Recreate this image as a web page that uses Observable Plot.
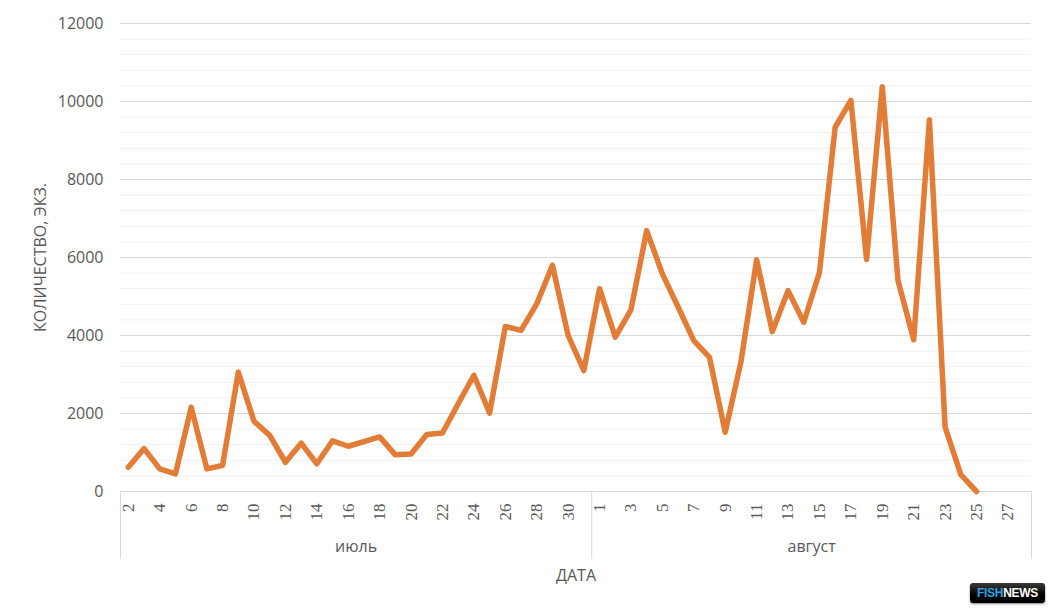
<!DOCTYPE html>
<html>
<head>
<meta charset="utf-8">
<script src="https://cdn.jsdelivr.net/npm/d3@7"></script>
<script src="https://cdn.jsdelivr.net/npm/@observablehq/plot@0.6"></script>
<style>
  html, body { margin: 0; padding: 0; background: #ffffff; }
  #wrap { position: relative; width: 1055px; height: 612px; overflow: hidden; }
  #logo { position: absolute; left: 970px; top: 583px; width: 75px; height: 20px;
    background: linear-gradient(#3a3a3a, #000 60%); border-radius: 3px;
    font: bold 12px "Liberation Sans", Arial, sans-serif; line-height: 20px; text-align: center;
    letter-spacing: -0.3px; box-shadow: 0 1px 2px rgba(0,0,0,0.5); }
  #logo .a { color: #2aa3e0; }
  #logo .b { color: #ffffff; }
</style>
</head>
<body>
<div id="wrap"><div id="chart"></div><div id="logo"><span class="a">FISH</span><span class="b">NEWS</span></div></div>
<script>
// ---- data ----
const months = ["июль", "август"];
const julyDays = [2,3,4,5,6,7,8,9,10,11,12,13,14,15,16,17,18,19,20,21,22,23,24,25,26,27,28,29,30,31];
const augustDays = [1,2,3,4,5,6,7,8,9,10,11,12,13,14,15,16,17,18,19,20,21,22,23,24,25,26,27,28];
const julyCounts = [620,1100,580,450,2160,580,670,3060,1800,1440,750,1240,710,1300,1160,1280,1400,940,960,1460,1500,2250,2980,2010,4230,4130,4810,5800,4000,3100];
const augustCounts = [5200,3960,4660,6690,5580,4730,3870,3440,1520,3320,5940,4100,5150,4340,5620,9340,10030,5950,10380,5410,3890,9530,1650,430,0];
const julyTickLabels = [2,4,6,8,10,12,14,16,18,20,22,24,26,28,30];
const augustTickLabels = [1,3,5,7,9,11,13,15,17,19,21,23,25,27];
const yMajorTicks = [0,2000,4000,6000,8000,10000,12000];
const yMinorTicks = [400,800,1200,1600,2400,2800,3200,3600,4400,4800,5200,5600,6400,6800,7200,7600,8400,8800,9200,9600,10400,10800,11200,11600];
const xTitle = "ДАТА";
const yTitle = "КОЛИЧЕСТВО, ЭКЗ.";

// ---- build category table ----
const categories = [
  ...julyDays.map(d => ({month: months[0], day: d})),
  ...augustDays.map(d => ({month: months[1], day: d}))
];
categories.forEach((c, i) => c.i = i);
const data = [];
julyCounts.forEach((v, k) => data.push({i: k, count: v}));
augustCounts.forEach((v, k) => data.push({i: julyDays.length + k, count: v}));

const tickIdx = categories.filter(c =>
  (c.month === months[0] && julyTickLabels.includes(c.day)) ||
  (c.month === months[1] && augustTickLabels.includes(c.day))).map(c => c.i);

const n = categories.length;
const boundaries = [-0.5, julyDays.length - 0.5, n - 0.5];
const monthCenters = [
  {x: (julyDays.length - 1) / 2, label: months[0]},
  {x: julyDays.length + (augustDays.length - 1) / 2, label: months[1]}
];

const chart = Plot.plot({
  width: 1055,
  height: 612,
  marginLeft: 120,
  marginRight: 24,
  marginTop: 23,
  marginBottom: 121,
  style: {fontFamily: "'Open Sans', sans-serif", color: "#595959", background: "#ffffff", overflow: "visible"},
  x: {type: "linear", domain: [-0.5, n - 0.5]},
  y: {domain: [0, 12000]},
  marks: [
    Plot.ruleY(yMinorTicks, {stroke: "#f0f0f0", strokeWidth: 1}),
    Plot.ruleY(yMajorTicks.filter(d => d > 0), {stroke: "#d9d9d9", strokeWidth: 1}),
    Plot.ruleY([0], {stroke: "#d9d9d9", strokeWidth: 1}),
    Plot.ruleX(boundaries, {stroke: "#d9d9d9", strokeWidth: 1, y1: 0, y2: 0, insetBottom: -68}),
    Plot.axisY({ticks: yMajorTicks, tickSize: 0, tickPadding: 17, fontSize: 16, tickFormat: d => String(d),
      label: yTitle, labelAnchor: "center", labelArrow: "none", labelOffset: 86}),
    Plot.axisX({ticks: tickIdx, tickSize: 0, tickPadding: 12, tickRotate: -90,
      tickFormat: i => String(categories[Math.round(i)].day),
      fontSize: 17, fontFamily: "'Liberation Serif', serif", label: null}),
    Plot.text(monthCenters, {x: "x", frameAnchor: "bottom", dy: 60, text: "label", fontSize: 16,
      fill: "#595959", letterSpacing: "1px"}),
    Plot.text([xTitle], {frameAnchor: "bottom", dy: 89, text: d => d, fontSize: 16, fill: "#595959"}),
    Plot.line(data, {x: "i", y: "count", stroke: "#E27C37", strokeWidth: 5.5, strokeLinejoin: "round", strokeLinecap: "round"})
  ]
});
document.getElementById("chart").appendChild(chart);
</script>
</body>
</html>
